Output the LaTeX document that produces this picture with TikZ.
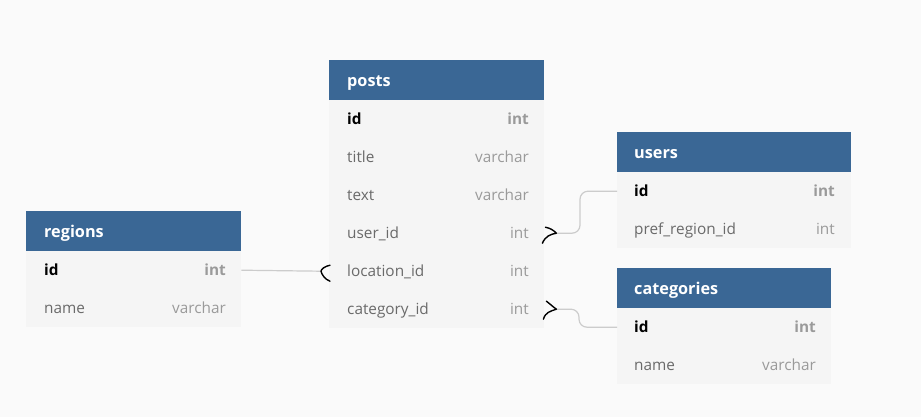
\documentclass[tikz,border=0pt]{standalone}
\usepackage{fontspec}
\setmainfont{Open Sans}
\definecolor{bg}{HTML}{FAFAFA}
\definecolor{hdrblue}{HTML}{3A6795}
\definecolor{rowgray}{HTML}{F5F5F5}
\definecolor{fieldtxt}{HTML}{6A6A6A}
\definecolor{typetxt}{HTML}{9A9A9A}
\definecolor{linkgray}{HTML}{CCCCCC}
\tikzset{
  hdr/.style={fill=hdrblue, draw=none, minimum width=#1, minimum height=40bp, anchor=north west, inner sep=0},
  rowbox/.style={fill=rowgray, draw=none, minimum width=#1, minimum height=38bp, anchor=north west, inner sep=0},
  hdrtxt/.style={anchor=base west, inner sep=0, yshift=-6bp, text=white, font=\bfseries\fontsize{16.3}{19}\selectfont},
  fld/.style={anchor=base west, inner sep=0, yshift=-5.5bp, text=fieldtxt, font=\fontsize{15.4}{18}\selectfont},
  fldkey/.style={anchor=base west, inner sep=0, yshift=-5.5bp, text=black, font=\bfseries\fontsize{15.4}{18}\selectfont},
  typ/.style={anchor=base east, inner sep=0, yshift=-5.5bp, text=typetxt, font=\fontsize{15.4}{18}\selectfont},
  typkey/.style={anchor=base east, inner sep=0, yshift=-5.5bp, text=typetxt, font=\bfseries\fontsize{15.4}{18}\selectfont},
  link/.style={draw=linkgray, line width=1.2bp, rounded corners=8bp},
  manymark/.style={draw=black, line width=1.4bp, line cap=round, line join=round}
}
\begin{document}
\begin{tikzpicture}[x=1bp,y=-1bp]
\fill[bg] (0,0) rectangle (921,417);
\useasboundingbox (0,0) rectangle (921,417);

% posts
\node[hdr=215bp] (posts) at (329,60) {};
\node[hdrtxt] (posts-t) at (347,80) {posts};
\node[rowbox=215bp] (posts-id) at (329,100) {};
\node[rowbox=215bp] (posts-title) at (329,138) {};
\node[rowbox=215bp] (posts-text) at (329,176) {};
\node[rowbox=215bp] (posts-user) at (329,214) {};
\node[rowbox=215bp] (posts-loc) at (329,252) {};
\node[rowbox=215bp] (posts-cat) at (329,290) {};
\node[fldkey] (pf1) at (347,119) {id};
\node[typkey] (pt1) at (529,119) {int};
\node[fld] (pf2) at (347,157) {title};
\node[typ] (pt2) at (529,157) {varchar};
\node[fld] (pf3) at (347,195) {text};
\node[typ] (pt3) at (529,195) {varchar};
\node[fld] (pf4) at (347,233) {user\_id};
\node[typ] (pt4) at (529,233) {int};
\node[fld] (pf5) at (347,271) {location\_id};
\node[typ] (pt5) at (529,271) {int};
\node[fld] (pf6) at (347,309) {category\_id};
\node[typ] (pt6) at (529,309) {int};

% regions
\node[hdr=215bp] (regions) at (26,211) {};
\node[hdrtxt] (regions-t) at (44,231) {regions};
\node[rowbox=215bp] (regions-id) at (26,251) {};
\node[rowbox=215bp] (regions-name) at (26,289) {};
\node[fldkey] (rf1) at (44,270) {id};
\node[typkey] (rt1) at (226,270) {int};
\node[fld] (rf2) at (44,308) {name};
\node[typ] (rt2) at (226,308) {varchar};

% users
\node[hdr=234bp] (users) at (617,132) {};
\node[hdrtxt] (users-t) at (634,152) {users};
\node[rowbox=234bp] (users-id) at (617,172) {};
\node[rowbox=234bp] (users-pref) at (617,210) {};
\node[fldkey] (uf1) at (634,191) {id};
\node[typkey] (ut1) at (835,191) {int};
\node[fld] (uf2) at (634,229) {pref\_region\_id};
\node[typ] (ut2) at (835,229) {int};

% categories
\node[hdr=214bp] (categories) at (617,268) {};
\node[hdrtxt] (categories-t) at (634,288) {categories};
\node[rowbox=214bp] (categories-id) at (617,308) {};
\node[rowbox=214bp] (categories-name) at (617,346) {};
\node[fldkey] (cf1) at (634,327) {id};
\node[typkey] (ct1) at (816,327) {int};
\node[fld] (cf2) at (634,365) {name};
\node[typ] (ct2) at (816,365) {varchar};

% connectors
\coordinate (uend) at ([xshift=12bp]posts-user.east);
\coordinate (cend) at ([xshift=12bp]posts-cat.east);
\coordinate (lend) at ([xshift=-8bp]posts-loc.west);
\draw[link, rounded corners=0] (regions-id.east) -- (lend);
\draw[link] (uend) -- ([xshift=-37bp]users-id.west |- uend) -- ([xshift=-37bp]users-id.west) -- (users-id.west);
\draw[link] (cend) -- ([xshift=-38bp]categories-id.west |- cend) -- ([xshift=-38bp]categories-id.west) -- (categories-id.west);

% many markers
\draw[manymark] ([shift={(-11,-6)}]uend) .. controls ([shift={(-6,-5)}]uend) and ([shift={(-3,-3)}]uend) .. (uend)
  .. controls ([shift={(-6,1)}]uend) and ([shift={(-11,3)}]uend) .. ([shift={(-14,10)}]uend);
\draw[manymark] ([shift={(-10,-8)}]cend) .. controls ([shift={(-6,-5)}]cend) and ([shift={(-3,-2)}]cend) .. (cend)
  .. controls ([shift={(-6,2)}]cend) and ([shift={(-11,3)}]cend) .. ([shift={(-13,10)}]cend);
\draw[manymark] ([shift={(9,-6)}]lend) .. controls ([shift={(4,-5)}]lend) and ([shift={(0,-2)}]lend) .. (lend)
  .. controls ([shift={(1,4)}]lend) and ([shift={(4,8)}]lend) .. ([shift={(9,10)}]lend);
\end{tikzpicture}
\end{document}
